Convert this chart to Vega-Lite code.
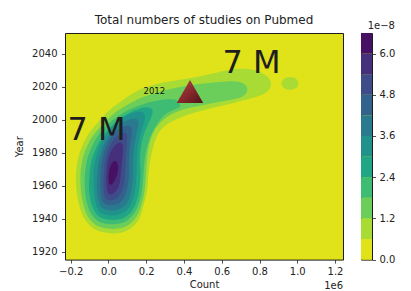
{
  "$schema": "https://vega.github.io/schema/vega-lite/v6.json",
  "padding": {"left": 14, "top": 13, "right": 5, "bottom": 0},
  "background": "white",
  "config": {
    "font": "DejaVu Sans",
    "view": {"stroke": "#1a1a1a", "strokeWidth": 1, "fill": "#e0e31a"},
    "axis": {"labelFont": "DejaVu Sans", "labelFontSize": 10, "labelColor": "#222", "tickColor": "#222", "tickSize": 3.5, "tickWidth": 0.8, "labelPadding": 3.5, "domain": false, "grid": false, "labelFlush": false, "titleFont": "DejaVu Sans", "titleFontSize": 10, "titleFontWeight": "normal", "titleColor": "#222"},
    "title": {"font": "DejaVu Sans", "fontSize": 12, "fontWeight": "normal", "color": "#222"}
  },
  "datasets": {
    "contours": [
      {"level":1,"poly":"1a","i":0,"count":8000,"year":1931.3},
      {"level":1,"poly":"1a","i":1,"count":-61000,"year":1933.1},
      {"level":1,"poly":"1a","i":2,"count":-119200,"year":1938.6},
      {"level":1,"poly":"1a","i":3,"count":-153600,"year":1947.6},
      {"level":1,"poly":"1a","i":4,"count":-169500,"year":1957.3},
      {"level":1,"poly":"1a","i":5,"count":-172100,"year":1967.0},
      {"level":1,"poly":"1a","i":6,"count":-161500,"year":1976.1},
      {"level":1,"poly":"1a","i":7,"count":-140300,"year":1983.9},
      {"level":1,"poly":"1a","i":8,"count":-103300,"year":1991.8},
      {"level":1,"poly":"1a","i":9,"count":-55600,"year":1998.5},
      {"level":1,"poly":"1a","i":10,"count":-7900,"year":2004.5},
      {"level":1,"poly":"1a","i":11,"count":50300,"year":2009.9},
      {"level":1,"poly":"1a","i":12,"count":113900,"year":2014.8},
      {"level":1,"poly":"1a","i":13,"count":182800,"year":2019.0},
      {"level":1,"poly":"1a","i":14,"count":267500,"year":2022.0},
      {"level":1,"poly":"1a","i":15,"count":362900,"year":2023.9},
      {"level":1,"poly":"1a","i":16,"count":463500,"year":2025.7},
      {"level":1,"poly":"1a","i":17,"count":558900,"year":2028.1},
      {"level":1,"poly":"1a","i":18,"count":643600,"year":2030.2},
      {"level":1,"poly":"1a","i":19,"count":723100,"year":2030.8},
      {"level":1,"poly":"1a","i":20,"count":791900,"year":2029.3},
      {"level":1,"poly":"1a","i":21,"count":844900,"year":2025.7},
      {"level":1,"poly":"1a","i":22,"count":860800,"year":2020.8},
      {"level":1,"poly":"1a","i":23,"count":829000,"year":2016.0},
      {"level":1,"poly":"1a","i":24,"count":765400,"year":2013.3},
      {"level":1,"poly":"1a","i":25,"count":670100,"year":2010.5},
      {"level":1,"poly":"1a","i":26,"count":564200,"year":2007.5},
      {"level":1,"poly":"1a","i":27,"count":463500,"year":2004.5},
      {"level":1,"poly":"1a","i":28,"count":378800,"year":2001.2},
      {"level":1,"poly":"1a","i":29,"count":309900,"year":1997.2},
      {"level":1,"poly":"1a","i":30,"count":267500,"year":1992.4},
      {"level":1,"poly":"1a","i":31,"count":241000,"year":1985.1},
      {"level":1,"poly":"1a","i":32,"count":222500,"year":1976.1},
      {"level":1,"poly":"1a","i":33,"count":211900,"year":1967.0},
      {"level":1,"poly":"1a","i":34,"count":204000,"year":1956.7},
      {"level":1,"poly":"1a","i":35,"count":182800,"year":1947.0},
      {"level":1,"poly":"1a","i":36,"count":161600,"year":1939.8},
      {"level":1,"poly":"1a","i":37,"count":119200,"year":1934.3},
      {"level":1,"poly":"1a","i":38,"count":66200,"year":1931.6},
      {"level":1,"poly":"1b","i":0,"count":961000,"year":2025.9},
      {"level":1,"poly":"1b","i":1,"count":993000,"year":2024.8},
      {"level":1,"poly":"1b","i":2,"count":1006000,"year":2022.0},
      {"level":1,"poly":"1b","i":3,"count":993000,"year":2019.2},
      {"level":1,"poly":"1b","i":4,"count":961000,"year":2018.1},
      {"level":1,"poly":"1b","i":5,"count":930000,"year":2019.2},
      {"level":1,"poly":"1b","i":6,"count":916000,"year":2022.0},
      {"level":1,"poly":"1b","i":7,"count":930000,"year":2024.8},
      {"level":2,"poly":"2","i":0,"count":8000,"year":1934.0},
      {"level":2,"poly":"2","i":1,"count":-55600,"year":1935.6},
      {"level":2,"poly":"2","i":2,"count":-103300,"year":1940.4},
      {"level":2,"poly":"2","i":3,"count":-132400,"year":1948.3},
      {"level":2,"poly":"2","i":4,"count":-145600,"year":1957.3},
      {"level":2,"poly":"2","i":5,"count":-148300,"year":1967.0},
      {"level":2,"poly":"2","i":6,"count":-137700,"year":1976.1},
      {"level":2,"poly":"2","i":7,"count":-113900,"year":1983.9},
      {"level":2,"poly":"2","i":8,"count":-76800,"year":1991.2},
      {"level":2,"poly":"2","i":9,"count":-29100,"year":1997.2},
      {"level":2,"poly":"2","i":10,"count":18600,"year":2002.7},
      {"level":2,"poly":"2","i":11,"count":76800,"year":2007.5},
      {"level":2,"poly":"2","i":12,"count":145700,"year":2011.8},
      {"level":2,"poly":"2","i":13,"count":225100,"year":2015.4},
      {"level":2,"poly":"2","i":14,"count":320500,"year":2018.4},
      {"level":2,"poly":"2","i":15,"count":426400,"year":2020.8},
      {"level":2,"poly":"2","i":16,"count":532400,"year":2022.3},
      {"level":2,"poly":"2","i":17,"count":627700,"year":2023.2},
      {"level":2,"poly":"2","i":18,"count":691300,"year":2022.9},
      {"level":2,"poly":"2","i":19,"count":728400,"year":2020.8},
      {"level":2,"poly":"2","i":20,"count":733700,"year":2017.2},
      {"level":2,"poly":"2","i":21,"count":707200,"year":2013.9},
      {"level":2,"poly":"2","i":22,"count":648900,"year":2012.1},
      {"level":2,"poly":"2","i":23,"count":543000,"year":2009.9},
      {"level":2,"poly":"2","i":24,"count":442300,"year":2007.5},
      {"level":2,"poly":"2","i":25,"count":362900,"year":2004.8},
      {"level":2,"poly":"2","i":26,"count":294000,"year":2000.3},
      {"level":2,"poly":"2","i":27,"count":246300,"year":1994.2},
      {"level":2,"poly":"2","i":28,"count":217200,"year":1985.8},
      {"level":2,"poly":"2","i":29,"count":204000,"year":1976.1},
      {"level":2,"poly":"2","i":30,"count":198700,"year":1967.0},
      {"level":2,"poly":"2","i":31,"count":190700,"year":1956.7},
      {"level":2,"poly":"2","i":32,"count":174800,"year":1948.3},
      {"level":2,"poly":"2","i":33,"count":145700,"year":1941.0},
      {"level":2,"poly":"2","i":34,"count":103300,"year":1936.2},
      {"level":2,"poly":"2","i":35,"count":55600,"year":1934.3},
      {"level":3,"poly":"3","i":0,"count":8000,"year":1936.8},
      {"level":3,"poly":"3","i":1,"count":-50300,"year":1938.3},
      {"level":3,"poly":"3","i":2,"count":-90000,"year":1942.8},
      {"level":3,"poly":"3","i":3,"count":-113900,"year":1949.5},
      {"level":3,"poly":"3","i":4,"count":-124500,"year":1957.9},
      {"level":3,"poly":"3","i":5,"count":-124500,"year":1967.0},
      {"level":3,"poly":"3","i":6,"count":-113900,"year":1975.5},
      {"level":3,"poly":"3","i":7,"count":-87400,"year":1983.9},
      {"level":3,"poly":"3","i":8,"count":-50300,"year":1991.2},
      {"level":3,"poly":"3","i":9,"count":-2600,"year":1997.2},
      {"level":3,"poly":"3","i":10,"count":50300,"year":2002.1},
      {"level":3,"poly":"3","i":11,"count":113900,"year":2006.3},
      {"level":3,"poly":"3","i":12,"count":188100,"year":2009.6},
      {"level":3,"poly":"3","i":13,"count":267500,"year":2011.8},
      {"level":3,"poly":"3","i":14,"count":331100,"year":2012.4},
      {"level":3,"poly":"3","i":15,"count":368200,"year":2011.2},
      {"level":3,"poly":"3","i":16,"count":378800,"year":2008.1},
      {"level":3,"poly":"3","i":17,"count":347000,"year":2006.0},
      {"level":3,"poly":"3","i":18,"count":299300,"year":2003.0},
      {"level":3,"poly":"3","i":19,"count":256900,"year":1997.2},
      {"level":3,"poly":"3","i":20,"count":225100,"year":1990.6},
      {"level":3,"poly":"3","i":21,"count":201300,"year":1982.1},
      {"level":3,"poly":"3","i":22,"count":190700,"year":1974.9},
      {"level":3,"poly":"3","i":23,"count":185400,"year":1967.0},
      {"level":3,"poly":"3","i":24,"count":177500,"year":1956.7},
      {"level":3,"poly":"3","i":25,"count":161600,"year":1949.2},
      {"level":3,"poly":"3","i":26,"count":132400,"year":1942.8},
      {"level":3,"poly":"3","i":27,"count":92700,"year":1938.6},
      {"level":3,"poly":"3","i":28,"count":50300,"year":1937.1},
      {"level":4,"poly":"4","i":0,"count":8000,"year":1939.5},
      {"level":4,"poly":"4","i":1,"count":-45000,"year":1941.0},
      {"level":4,"poly":"4","i":2,"count":-76800,"year":1945.2},
      {"level":4,"poly":"4","i":3,"count":-95300,"year":1951.3},
      {"level":4,"poly":"4","i":4,"count":-103300,"year":1959.1},
      {"level":4,"poly":"4","i":5,"count":-100600,"year":1967.0},
      {"level":4,"poly":"4","i":6,"count":-90000,"year":1975.5},
      {"level":4,"poly":"4","i":7,"count":-60900,"year":1983.9},
      {"level":4,"poly":"4","i":8,"count":-23800,"year":1991.2},
      {"level":4,"poly":"4","i":9,"count":23900,"year":1997.2},
      {"level":4,"poly":"4","i":10,"count":76800,"year":2002.1},
      {"level":4,"poly":"4","i":11,"count":140400,"year":2005.7},
      {"level":4,"poly":"4","i":12,"count":198700,"year":2007.5},
      {"level":4,"poly":"4","i":13,"count":230400,"year":2006.3},
      {"level":4,"poly":"4","i":14,"count":230400,"year":2002.7},
      {"level":4,"poly":"4","i":15,"count":206600,"year":1996.6},
      {"level":4,"poly":"4","i":16,"count":182800,"year":1989.4},
      {"level":4,"poly":"4","i":17,"count":169500,"year":1980.9},
      {"level":4,"poly":"4","i":18,"count":166900,"year":1973.7},
      {"level":4,"poly":"4","i":19,"count":169500,"year":1967.0},
      {"level":4,"poly":"4","i":20,"count":161600,"year":1956.7},
      {"level":4,"poly":"4","i":21,"count":143100,"year":1948.9},
      {"level":4,"poly":"4","i":22,"count":113900,"year":1943.4},
      {"level":4,"poly":"4","i":23,"count":76800,"year":1940.4},
      {"level":4,"poly":"4","i":24,"count":39700,"year":1939.5},
      {"level":5,"poly":"5","i":0,"count":5300,"year":1942.2},
      {"level":5,"poly":"5","i":1,"count":-39700,"year":1943.7},
      {"level":5,"poly":"5","i":2,"count":-63500,"year":1947.9},
      {"level":5,"poly":"5","i":3,"count":-76800,"year":1954.9},
      {"level":5,"poly":"5","i":4,"count":-79400,"year":1962.8},
      {"level":5,"poly":"5","i":5,"count":-76800,"year":1971.2},
      {"level":5,"poly":"5","i":6,"count":-60900,"year":1979.7},
      {"level":5,"poly":"5","i":7,"count":-34400,"year":1987.0},
      {"level":5,"poly":"5","i":8,"count":2700,"year":1993.6},
      {"level":5,"poly":"5","i":9,"count":50300,"year":1999.1},
      {"level":5,"poly":"5","i":10,"count":103300,"year":2002.7},
      {"level":5,"poly":"5","i":11,"count":151000,"year":2004.8},
      {"level":5,"poly":"5","i":12,"count":182800,"year":2004.5},
      {"level":5,"poly":"5","i":13,"count":193400,"year":2001.5},
      {"level":5,"poly":"5","i":14,"count":180100,"year":1995.4},
      {"level":5,"poly":"5","i":15,"count":161600,"year":1987.0},
      {"level":5,"poly":"5","i":16,"count":151000,"year":1977.9},
      {"level":5,"poly":"5","i":17,"count":148300,"year":1967.0},
      {"level":5,"poly":"5","i":18,"count":140400,"year":1956.7},
      {"level":5,"poly":"5","i":19,"count":121900,"year":1949.5},
      {"level":5,"poly":"5","i":20,"count":92700,"year":1944.9},
      {"level":5,"poly":"5","i":21,"count":50300,"year":1942.5},
      {"level":6,"poly":"6","i":0,"count":5300,"year":1945.2},
      {"level":6,"poly":"6","i":1,"count":-34400,"year":1946.7},
      {"level":6,"poly":"6","i":2,"count":-52900,"year":1951.0},
      {"level":6,"poly":"6","i":3,"count":-60900,"year":1956.7},
      {"level":6,"poly":"6","i":4,"count":-60900,"year":1964.0},
      {"level":6,"poly":"6","i":5,"count":-55600,"year":1972.4},
      {"level":6,"poly":"6","i":6,"count":-39700,"year":1980.3},
      {"level":6,"poly":"6","i":7,"count":-13200,"year":1987.6},
      {"level":6,"poly":"6","i":8,"count":23900,"year":1993.6},
      {"level":6,"poly":"6","i":9,"count":66200,"year":1997.8},
      {"level":6,"poly":"6","i":10,"count":113900,"year":2000.3},
      {"level":6,"poly":"6","i":11,"count":145700,"year":2000.6},
      {"level":6,"poly":"6","i":12,"count":158900,"year":1998.2},
      {"level":6,"poly":"6","i":13,"count":151000,"year":1993.0},
      {"level":6,"poly":"6","i":14,"count":137700,"year":1985.1},
      {"level":6,"poly":"6","i":15,"count":129800,"year":1976.1},
      {"level":6,"poly":"6","i":16,"count":129800,"year":1967.0},
      {"level":6,"poly":"6","i":17,"count":121900,"year":1957.9},
      {"level":6,"poly":"6","i":18,"count":106000,"year":1951.3},
      {"level":6,"poly":"6","i":19,"count":79500,"year":1947.3},
      {"level":6,"poly":"6","i":20,"count":42400,"year":1945.5},
      {"level":7,"poly":"7","i":0,"count":5300,"year":1948.3},
      {"level":7,"poly":"7","i":1,"count":-26500,"year":1949.8},
      {"level":7,"poly":"7","i":2,"count":-39700,"year":1953.7},
      {"level":7,"poly":"7","i":3,"count":-42400,"year":1959.7},
      {"level":7,"poly":"7","i":4,"count":-42400,"year":1967.0},
      {"level":7,"poly":"7","i":5,"count":-37100,"year":1974.3},
      {"level":7,"poly":"7","i":6,"count":-21200,"year":1981.5},
      {"level":7,"poly":"7","i":7,"count":2700,"year":1987.6},
      {"level":7,"poly":"7","i":8,"count":34500,"year":1992.4},
      {"level":7,"poly":"7","i":9,"count":71500,"year":1995.4},
      {"level":7,"poly":"7","i":10,"count":103300,"year":1996.6},
      {"level":7,"poly":"7","i":11,"count":121900,"year":1995.1},
      {"level":7,"poly":"7","i":12,"count":121900,"year":1990.6},
      {"level":7,"poly":"7","i":13,"count":113900,"year":1983.3},
      {"level":7,"poly":"7","i":14,"count":108600,"year":1974.9},
      {"level":7,"poly":"7","i":15,"count":108600,"year":1967.0},
      {"level":7,"poly":"7","i":16,"count":100700,"year":1959.1},
      {"level":7,"poly":"7","i":17,"count":84800,"year":1953.4},
      {"level":7,"poly":"7","i":18,"count":60900,"year":1949.8},
      {"level":7,"poly":"7","i":19,"count":34500,"year":1948.6},
      {"level":8,"poly":"8","i":0,"count":5300,"year":1951.3},
      {"level":8,"poly":"8","i":1,"count":-15900,"year":1952.8},
      {"level":8,"poly":"8","i":2,"count":-23800,"year":1956.7},
      {"level":8,"poly":"8","i":3,"count":-26500,"year":1962.2},
      {"level":8,"poly":"8","i":4,"count":-23800,"year":1968.8},
      {"level":8,"poly":"8","i":5,"count":-15900,"year":1976.1},
      {"level":8,"poly":"8","i":6,"count":0,"year":1982.7},
      {"level":8,"poly":"8","i":7,"count":23900,"year":1987.6},
      {"level":8,"poly":"8","i":8,"count":53000,"year":1990.6},
      {"level":8,"poly":"8","i":9,"count":82100,"year":1992.1},
      {"level":8,"poly":"8","i":10,"count":98000,"year":1990.9},
      {"level":8,"poly":"8","i":11,"count":98000,"year":1986.4},
      {"level":8,"poly":"8","i":12,"count":92700,"year":1979.1},
      {"level":8,"poly":"8","i":13,"count":90100,"year":1971.8},
      {"level":8,"poly":"8","i":14,"count":87400,"year":1965.8},
      {"level":8,"poly":"8","i":15,"count":79500,"year":1959.7},
      {"level":8,"poly":"8","i":16,"count":63600,"year":1955.2},
      {"level":8,"poly":"8","i":17,"count":39700,"year":1952.2},
      {"level":9,"poly":"9","i":0,"count":8000,"year":1954.9},
      {"level":9,"poly":"9","i":1,"count":-5300,"year":1956.7},
      {"level":9,"poly":"9","i":2,"count":-10600,"year":1961.0},
      {"level":9,"poly":"9","i":3,"count":-10600,"year":1967.0},
      {"level":9,"poly":"9","i":4,"count":-5300,"year":1973.7},
      {"level":9,"poly":"9","i":5,"count":8000,"year":1979.7},
      {"level":9,"poly":"9","i":6,"count":29200,"year":1983.9},
      {"level":9,"poly":"9","i":7,"count":55600,"year":1986.1},
      {"level":9,"poly":"9","i":8,"count":74200,"year":1985.1},
      {"level":9,"poly":"9","i":9,"count":76800,"year":1980.9},
      {"level":9,"poly":"9","i":10,"count":71500,"year":1974.9},
      {"level":9,"poly":"9","i":11,"count":66200,"year":1968.8},
      {"level":9,"poly":"9","i":12,"count":60900,"year":1962.8},
      {"level":9,"poly":"9","i":13,"count":47700,"year":1958.2},
      {"level":9,"poly":"9","i":14,"count":26500,"year":1955.5},
      {"level":10,"poly":"10","i":0,"count":39700,"year":1974.9},
      {"level":10,"poly":"10","i":1,"count":50300,"year":1972.4},
      {"level":10,"poly":"10","i":2,"count":47700,"year":1968.2},
      {"level":10,"poly":"10","i":3,"count":37100,"year":1964.3},
      {"level":10,"poly":"10","i":4,"count":21200,"year":1961.3},
      {"level":10,"poly":"10","i":5,"count":5300,"year":1961.0},
      {"level":10,"poly":"10","i":6,"count":0,"year":1964.0},
      {"level":10,"poly":"10","i":7,"count":2600,"year":1968.8},
      {"level":10,"poly":"10","i":8,"count":10600,"year":1972.1},
      {"level":10,"poly":"10","i":9,"count":23900,"year":1974.6}
    ],
    "bands": [
      {"level":0,"lo":0.0,"hi":0.6},
      {"level":1,"lo":0.6,"hi":1.2},
      {"level":2,"lo":1.2,"hi":1.8},
      {"level":3,"lo":1.8,"hi":2.4},
      {"level":4,"lo":2.4,"hi":3.0},
      {"level":5,"lo":3.0,"hi":3.6},
      {"level":6,"lo":3.6,"hi":4.2},
      {"level":7,"lo":4.2,"hi":4.8},
      {"level":8,"lo":4.8,"hi":5.4},
      {"level":9,"lo":5.4,"hi":6.0},
      {"level":10,"lo":6.0,"hi":6.6}
    ],
    "marker": [{"count":431700,"year":2017.1}],
    "bigLabels": [
      {"text":"7 M","count":-217000,"year":1988.0},
      {"text":"7 M","count":604000,"year":2028.3}
    ],
    "smallLabels": [{"text":"2012","count":185400,"year":2015.6}],
    "offsetLabels": [{"text":"1e6","count":1242200,"year":1899.3}]
  },
  "hconcat": [
    {
      "width": 278,
      "height": 226.6,
      "title": {"text": "Total numbers of studies on Pubmed", "anchor": "middle", "offset": 6},
      "encoding": {
        "x": {"field": "count", "type": "quantitative", "title": "Count",
              "scale": {"domain": [-230400, 1242200], "nice": false, "zero": false},
              "axis": {"values": [-200000, 0, 200000, 400000, 600000, 800000, 1000000, 1200000],
                       "labelExpr": "replace(format(datum.value/1000000, '.1f'), '-', '\u2212')",
                       "titlePadding": 3}},
        "y": {"field": "year", "type": "quantitative", "title": "Year",
              "scale": {"domain": [1915.4, 2052.5], "nice": false, "zero": false},
              "axis": {"values": [1920, 1940, 1960, 1980, 2000, 2020, 2040], "format": "d", "labelPadding": 4.5, "titlePadding": 7}}
      },
      "layer": [
        {
          "data": {"name": "contours"},
          "mark": {"type": "line", "interpolate": "cardinal-closed", "filled": true, "strokeWidth": 0},
          "encoding": {
            "color": {"field": "level", "type": "ordinal", "legend": null,
                      "scale": {"domain": [0,1,2,3,4,5,6,7,8,9,10],
                                "range": ["#e0e31a","#a8db34","#6bcd5a","#3ebc73","#21a685","#21918c","#297a8e","#33638d","#3e4c89","#46307c","#471163"]}},
            "detail": {"field": "poly"},
            "order": {"field": "i", "type": "quantitative"}
          }
        },
        {
          "data": {"name": "marker"},
          "mark": {"type": "point", "shape": "triangle-up", "size": 700, "filled": true, "opacity": 1,
                   "color": {"gradient": "linear", "x1": 0, "y1": 0, "x2": 1, "y2": 1,
                             "stops": [{"offset": 0, "color": "#b24a4c"}, {"offset": 0.5, "color": "#8a2a2e"}, {"offset": 1, "color": "#4d1416"}]}}
        },
        {
          "data": {"name": "bigLabels"},
          "mark": {"type": "text", "align": "left", "baseline": "alphabetic", "fontSize": 32, "font": "DejaVu Sans", "color": "#1e1e1e"},
          "encoding": {"text": {"field": "text"}}
        },
        {
          "data": {"name": "smallLabels"},
          "mark": {"type": "text", "align": "left", "baseline": "alphabetic", "fontSize": 9.5, "font": "Liberation Sans Narrow, DejaVu Sans Condensed", "color": "#111"},
          "encoding": {"text": {"field": "text"}}
        },
        {
          "data": {"name": "offsetLabels"},
          "mark": {"type": "text", "align": "right", "baseline": "middle", "fontSize": 10, "font": "DejaVu Sans", "color": "#222"},
          "encoding": {"text": {"field": "text"}}
        }
      ]
    },
    {
      "width": 11,
      "height": 226.6,
      "title": {"text": "1e\u22128", "anchor": "end", "fontSize": 10, "offset": 2},
      "data": {"name": "bands"},
      "mark": {"type": "rect"},
      "encoding": {
        "y": {"field": "lo", "type": "quantitative", "scale": {"domain": [0, 6.6], "nice": false, "zero": false},
              "axis": {"orient": "right", "values": [0, 1.2, 2.4, 3.6, 4.8, 6.0], "format": ".1f", "title": null}},
        "y2": {"field": "hi"},
        "color": {"field": "level", "type": "ordinal", "legend": null}
      }
    }
  ],
  "bounds": "flush",
  "spacing": 18
}
